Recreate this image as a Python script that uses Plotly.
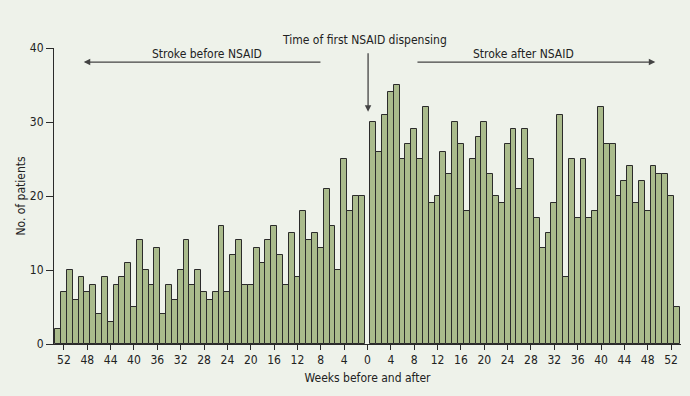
import plotly.graph_objects as go

# weeks before first NSAID dispensing: week 53 ... week 1
before_weeks = list(range(53, 0, -1))
before_counts = [2, 7, 10, 6, 9, 7, 8, 4, 9, 3, 8, 9, 11, 5, 14, 10, 8, 13, 4, 8, 6, 10,
                 14, 8, 10, 7, 6, 7, 16, 7, 12, 14, 8, 8, 13, 11, 14, 16, 12, 8, 15, 9,
                 18, 14, 15, 13, 21, 16, 10, 25, 18, 20, 20]
# weeks after: week 1 ... week 53
after_weeks = list(range(1, 54))
after_counts = [30, 26, 31, 34, 35, 25, 27, 29, 25, 32, 19, 20, 26, 23, 30, 27, 18, 25,
                28, 30, 23, 20, 19, 27, 29, 21, 29, 25, 17, 13, 15, 19, 31, 9, 25, 17,
                25, 17, 18, 32, 27, 27, 20, 22, 24, 19, 22, 18, 24, 23, 23, 20, 5]

tick_vals = list(range(-52, 53, 4))
tick_text = [str(abs(v)) for v in tick_vals]
y_ticks = [0, 10, 20, 30, 40]

x = [-w for w in before_weeks] + after_weeks
y = before_counts + after_counts

BG = "#eef2ea"
FILL = "#aabb8c"
EDGE = "#2b2b2b"
TXT = "#222222"
FONT = "Liberation Sans Narrow, DejaVu Sans Condensed, Arial Narrow, sans-serif"

fig = go.Figure()
fig.add_trace(go.Bar(x=x, y=y, width=1.0,
                     marker=dict(color=FILL, line=dict(color=EDGE, width=1))))

arrow_col = "#444444"
fig.add_annotation(x=-48.6, y=38.1, ax=-7.8, ay=38.1, xref="x", yref="y", axref="x", ayref="y",
                   showarrow=True, arrowhead=2, arrowsize=1, arrowwidth=1.3, arrowcolor=arrow_col, text="")
fig.add_annotation(x=49.3, y=38.1, ax=8.3, ay=38.1, xref="x", yref="y", axref="x", ayref="y",
                   showarrow=True, arrowhead=2, arrowsize=1, arrowwidth=1.3, arrowcolor=arrow_col, text="")
fig.add_annotation(x=0.1, y=31.4, ax=0.1, ay=39.5, xref="x", yref="y", axref="x", ayref="y",
                   showarrow=True, arrowhead=2, arrowsize=1, arrowwidth=1.3, arrowcolor=arrow_col, text="")
fig.add_annotation(x=-27.5, y=39.2, xref="x", yref="y", yanchor="middle", text="Stroke before NSAID",
                   showarrow=False, font=dict(size=12, color=TXT, family=FONT))
fig.add_annotation(x=26.7, y=39.2, xref="x", yref="y", yanchor="middle", text="Stroke after NSAID",
                   showarrow=False, font=dict(size=12, color=TXT, family=FONT))
fig.add_annotation(x=-0.5, y=1.027, xref="x", yref="paper", yanchor="middle",
                   text="Time of first NSAID dispensing",
                   showarrow=False, font=dict(size=12, color=TXT, family=FONT))

fig.update_layout(
    width=690, height=396,
    margin=dict(l=54, r=9, t=48, b=52),
    paper_bgcolor=BG, plot_bgcolor=BG,
    bargap=0, showlegend=False,
    font=dict(family=FONT, size=12, color=TXT),
    xaxis=dict(range=[-53.7, 53.7], tickmode="array", tickvals=tick_vals, ticktext=tick_text,
               ticks="outside", ticklen=5, tickcolor=EDGE, tickwidth=1,
               showline=True, linecolor=EDGE, linewidth=1, showgrid=False, zeroline=False,
               title=dict(text="Weeks before and after", standoff=7, font=dict(size=12)),
               tickfont=dict(size=12)),
    yaxis=dict(range=[0, 40], tickvals=y_ticks, ticks="outside", ticklen=7, tickcolor=EDGE,
               showline=True, linecolor=EDGE, linewidth=1, showgrid=False, zeroline=False,
               title=dict(text="No. of patients", standoff=1, font=dict(size=12)),
               tickfont=dict(size=12)),
)

fig.write_html("out.html", config={"displayModeBar": False},
               post_script="document.body.style.margin='0';document.body.style.padding='0';"
                           "document.body.style.background='" + BG + "';")
